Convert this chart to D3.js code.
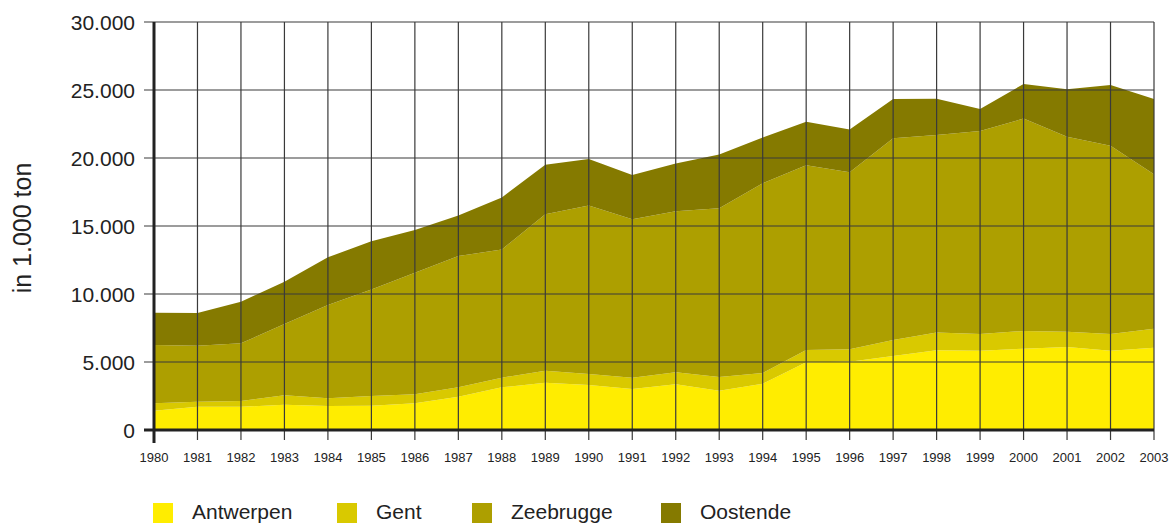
<!DOCTYPE html>
<html>
<head>
<meta charset="utf-8">
<script src="https://cdn.jsdelivr.net/npm/d3@7"></script>
<style>
  body { margin: 0; background: #fff; }
  svg { display: block; font-family: "Liberation Sans", Arial, sans-serif; }
</style>
</head>
<body>
<svg width="1170" height="524"></svg>
<script>
// jaren en havens
const years = [1980, 1981, 1982, 1983, 1984, 1985, 1986, 1987, 1988, 1989, 1990, 1991,
               1992, 1993, 1994, 1995, 1996, 1997, 1998, 1999, 2000, 2001, 2002, 2003];
const ports = ["Antwerpen", "Gent", "Zeebrugge", "Oostende"];

// waarden in 1.000 ton
const antwerpen = [1420, 1710, 1710, 1860, 1760, 1790, 1960, 2450, 3140, 3480, 3310, 3010,
                   3360, 2890, 3400, 4980, 5020, 5440, 5860, 5830, 5980, 6100, 5830, 6050];
const gent      = [540, 370, 420, 690, 570, 710, 660, 690, 710, 880, 810, 840,
                   880, 1010, 800, 900, 910, 1180, 1300, 1230, 1300, 1130, 1230, 1400];
const zeebrugge = [4290, 4120, 4240, 5250, 6860, 7840, 8950, 9650, 9430, 11500, 12380, 11640,
                   11840, 12400, 13940, 13580, 13020, 14830, 14530, 14930, 15620, 14340, 13840, 11350];
const oostende  = [2370, 2400, 3060, 3100, 3510, 3530, 3130, 2990, 3820, 3640, 3430, 3260,
                   3520, 3950, 3360, 3210, 3150, 2890, 2670, 1610, 2540, 3480, 4470, 5540];

const yTicks = [0, 5000, 10000, 15000, 20000, 25000, 30000];
const colors = ["#ffed00", "#d9c900", "#ad9f00", "#857a00"];

const svg = d3.select("svg");
const margin = { top: 22, right: 16, bottom: 94, left: 154 };
const width = +svg.attr("width") - margin.left - margin.right;
const height = +svg.attr("height") - margin.top - margin.bottom;
const g = svg.append("g")
  .attr("transform", "translate(" + margin.left + "," + margin.top + ")");

const table = years.map(function(y, i) {
  return { year: y, Antwerpen: antwerpen[i], Gent: gent[i], Zeebrugge: zeebrugge[i], Oostende: oostende[i] };
});

const x = d3.scaleLinear().domain([1980, 2003]).range([0, width]);
const yScale = d3.scaleLinear().domain([0, 30000]).range([height, 0]);
const color = d3.scaleOrdinal().domain(ports).range(colors);

const nl = d3.formatLocale({ decimal: ",", thousands: ".", grouping: [3], currency: ["", ""] });
const fmt = nl.format(",.0f");

const stacked = d3.stack().keys(ports)(table);

const area = d3.area()
  .x(function(d) { return x(d.data.year); })
  .y0(function(d) { return yScale(d[0]); })
  .y1(function(d) { return yScale(d[1]); });

g.selectAll(".layer")
  .data(stacked)
  .join("path")
  .attr("class", "layer")
  .attr("fill", function(d) { return color(d.key); })
  .attr("d", area);

// rasterlijnen
g.selectAll(".vgrid")
  .data(years)
  .join("line")
  .attr("class", "vgrid")
  .attr("x1", function(d) { return x(d); })
  .attr("x2", function(d) { return x(d); })
  .attr("y1", 0)
  .attr("y2", height + 10)
  .attr("stroke", "#3a3a3a")
  .attr("stroke-width", 1.2);

g.selectAll(".hgrid")
  .data(yTicks)
  .join("line")
  .attr("class", "hgrid")
  .attr("x1", -10)
  .attr("x2", width)
  .attr("y1", function(d) { return yScale(d); })
  .attr("y2", function(d) { return yScale(d); })
  .attr("stroke", "#3a3a3a")
  .attr("stroke-width", 1.2);

// assen
g.append("line")
  .attr("x1", -10).attr("x2", width)
  .attr("y1", height).attr("y2", height)
  .attr("stroke", "#222").attr("stroke-width", 3);
g.append("line")
  .attr("x1", 0).attr("x2", 0)
  .attr("y1", 0).attr("y2", height + 13)
  .attr("stroke", "#222").attr("stroke-width", 3);

g.selectAll(".ylab")
  .data(yTicks)
  .join("text")
  .attr("class", "ylab")
  .attr("x", -19)
  .attr("y", function(d) { return yScale(d) + 7.5; })
  .attr("text-anchor", "end")
  .attr("font-size", 21)
  .attr("fill", "#222")
  .text(function(d) { return fmt(d); });

g.selectAll(".xlab")
  .data(years)
  .join("text")
  .attr("class", "xlab")
  .attr("x", function(d) { return x(d); })
  .attr("y", height + 32)
  .attr("text-anchor", "middle")
  .attr("font-size", 13)
  .attr("fill", "#222")
  .text(function(d) { return d; });

svg.append("text")
  .attr("transform", "translate(31,228) rotate(-90)")
  .attr("text-anchor", "middle")
  .attr("font-size", 25)
  .attr("fill", "#222")
  .text("in 1.000 ton");

// legenda
const legendX = [153, 337, 472, 661];
const legend = svg.selectAll(".legend")
  .data(ports)
  .join("g")
  .attr("class", "legend")
  .attr("transform", function(d, i) { return "translate(" + legendX[i] + ",503)"; });

legend.append("rect")
  .attr("width", 20)
  .attr("height", 20)
  .attr("fill", function(d) { return color(d); });

legend.append("text")
  .attr("x", 39)
  .attr("y", 16)
  .attr("font-size", 21)
  .attr("fill", "#222")
  .text(function(d) { return d; });
</script>
</body>
</html>
